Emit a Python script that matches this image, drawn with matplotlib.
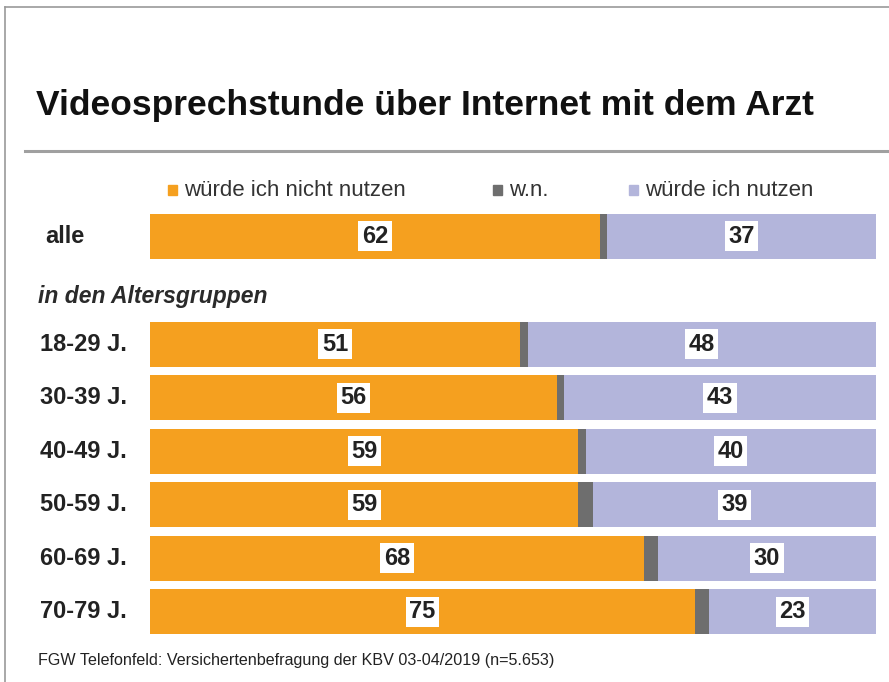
import matplotlib.pyplot as plt
from matplotlib.lines import Line2D
from matplotlib.patches import Rectangle

# Data
rows = ['alle', '18-29 J.', '30-39 J.', '40-49 J.', '50-59 J.', '60-69 J.', '70-79 J.']
nicht_nutzen = [62, 51, 56, 59, 59, 68, 75]
wn = [1, 1, 1, 1, 2, 2, 2]
nutzen = [37, 48, 43, 40, 39, 30, 23]
series_names = ['würde ich nicht nutzen', 'w.n.', 'würde ich nutzen']
title = 'Videosprechstunde über Internet mit dem Arzt'
subgroup = 'in den Altersgruppen'
source = 'FGW Telefonfeld: Versichertenbefragung der KBV 03-04/2019 (n=5.653)'

c_orange = '#F5A01F'
c_gray = '#6E6E6E'
c_lav = '#B3B5DB'
txt = '#222222'

plt.rcParams['font.family'] = ['Liberation Sans', 'DejaVu Sans']

W, H = 889, 682
fig = plt.figure(figsize=(W / 100, H / 100), dpi=100)

def fx(x):
    return x / W

def fy(y):
    return 1 - y / H

# frame lines (top + left)
fig.add_artist(Line2D([fx(5), 1], [fy(7), fy(7)], color='#9a9a9a', lw=1.2))
fig.add_artist(Line2D([fx(5), fx(5)], [fy(7), 0], color='#9a9a9a', lw=1.2))
# line under title
fig.add_artist(Line2D([fx(25), 1], [fy(151), fy(151)], color='#a0a0a0', lw=2.2))

fig.text(fx(36), fy(106), title, fontsize=25.5, fontweight='bold', color='#111111',
         va='center', ha='left')

# bars
ypos = [0] + [2.02 + i for i in range(len(rows) - 1)]
h = 0.84
ax = fig.add_axes([fx(150), 48 / H, 726 / W, 420 / H])
ax.set_xlim(0, 100)
ax.set_ylim(ypos[-1] + h / 2, -h / 2)
ax.axis('off')

left2 = [a + b for a, b in zip(nicht_nutzen, wn)]
ax.barh(ypos, nicht_nutzen, height=h, color=c_orange)
ax.barh(ypos, wn, left=nicht_nutzen, height=h, color=c_gray)
ax.barh(ypos, nutzen, left=left2, height=h, color=c_lav)

box = dict(facecolor='white', edgecolor='none', pad=2.5)
for y, a, l2, c in zip(ypos, nicht_nutzen, left2, nutzen):
    ax.text(a / 2, y, str(a), ha='center', va='center', fontsize=17, fontweight='bold',
            color=txt, bbox=box)
    ax.text(l2 + c / 2, y, str(c), ha='center', va='center', fontsize=17, fontweight='bold',
            color=txt, bbox=box)

# row labels
for i, (y, lab) in enumerate(zip(ypos, rows)):
    xd, yd = ax.transData.transform((0, y))
    x0 = 45 if i == 0 else 40
    fig.text(fx(x0), yd / H, lab, fontsize=17, fontweight='bold', color=txt,
             va='center', ha='left')

fig.text(fx(38), fy(296), subgroup, fontsize=16.5, style='italic', fontweight='bold',
         color='#2a2a2a', va='center', ha='left')

# legend
leg = [(168, c_orange, series_names[0]), (493, c_gray, series_names[1]),
       (629, c_lav, series_names[2])]
for x0, col, name in leg:
    fig.add_artist(Rectangle((fx(x0), fy(195)), 9 / W, 10 / H, color=col))
    fig.text(fx(x0 + 16), fy(190), name, fontsize=16, color='#333333',
             va='center', ha='left')

fig.text(fx(38), fy(660), source, fontsize=11.6, color=txt, va='center', ha='left')

fig.savefig('out.png', dpi=100)
